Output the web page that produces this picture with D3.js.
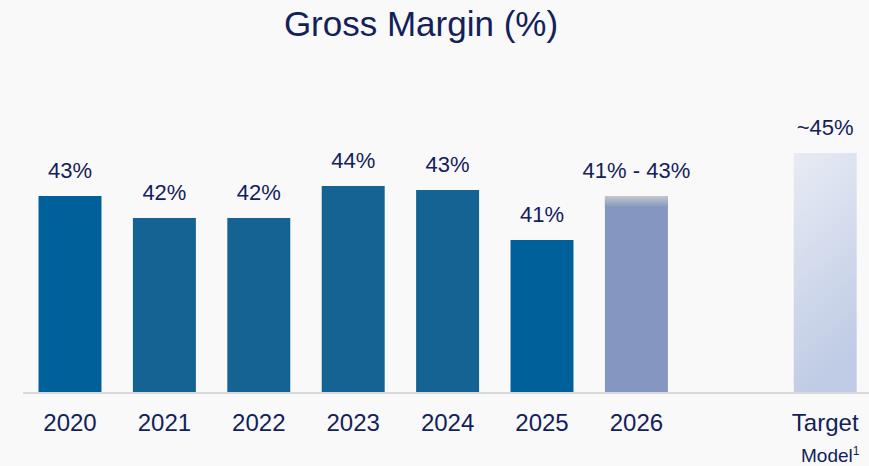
<!DOCTYPE html>
<html>
<head>
<meta charset="utf-8">
<script src="https://cdn.jsdelivr.net/npm/d3@7/dist/d3.min.js"></script>
<style>
  html, body { margin: 0; padding: 0; background: #f9f9f9; }
  svg { display: block; font-family: "Liberation Sans", Arial, sans-serif; }
</style>
</head>
<body>
<svg id="chart" width="869" height="466"></svg>
<script>
// ---- data ----
const categories = ["2020", "2021", "2022", "2023", "2024", "2025", "2026", "", "Target"];
const values     = [43.2, 42.1, 42.1, 43.7, 43.5, 41.0, 43.2, null, 45.35];
const fadeLow2026 = 42.65; // lower edge of the grey fade on the 2026 outlook bar
const valueLabels = ["43%", "42%", "42%", "44%", "43%", "41%", "41% - 43%", "", "~45%"];
const barKinds    = ["a", "b", "b", "b", "b", "a", "outlook", "", "target"];
const tickSub = { "Target": "Model" };

// ---- layout ----
const W = 869, H = 466;
const baseY = 392;
const navy = "#13215a";

const svg = d3.select("#chart");

const defs = svg.append("defs");
const g1 = defs.append("linearGradient").attr("id", "fade26").attr("x1", 0).attr("y1", 0).attr("x2", 0).attr("y2", 1);
g1.append("stop").attr("offset", "0%").attr("stop-color", "#c6c8cd");
g1.append("stop").attr("offset", "100%").attr("stop-color", "#8597c0");
const g2 = defs.append("linearGradient").attr("id", "targetGrad").attr("x1", 0).attr("y1", 0).attr("x2", 0.25).attr("y2", 1);
g2.append("stop").attr("offset", "0%").attr("stop-color", "#e7ebf4");
g2.append("stop").attr("offset", "100%").attr("stop-color", "#c0cce5");

const x = d3.scaleBand()
  .domain(categories)
  .range([22.8, 872.4])
  .paddingInner(0.333)
  .paddingOuter(0.1665);

const y = d3.scaleLinear()
  .domain([33.4, 45.35])
  .range([baseY, 153]);

const colors = { a: "#00609a", b: "#156393", outlook: "#8597c0", target: "url(#targetGrad)" };

const data = categories.map((c, i) => ({ c, v: values[i], label: valueLabels[i], kind: barKinds[i] }))
  .filter(d => d.v !== null);

// title
svg.append("text")
  .attr("x", 421).attr("y", 36)
  .attr("text-anchor", "middle")
  .attr("font-size", 35)
  .attr("fill", navy)
  .text("Gross Margin (%)");

// bars
svg.append("g").selectAll("rect.bar")
  .data(data)
  .join("rect")
  .attr("class", "bar")
  .attr("x", d => x(d.c))
  .attr("width", x.bandwidth())
  .attr("y", d => y(d.v))
  .attr("height", d => baseY - y(d.v))
  .attr("fill", d => colors[d.kind]);

// grey fade on the outlook bar (range top)
const d26 = data.find(d => d.kind === "outlook");
svg.append("rect")
  .attr("x", x(d26.c))
  .attr("width", x.bandwidth())
  .attr("y", y(d26.v))
  .attr("height", y(fadeLow2026) - y(d26.v))
  .attr("fill", "url(#fade26)");

// value labels
svg.append("g").selectAll("text.val")
  .data(data)
  .join("text")
  .attr("class", "val")
  .attr("x", d => x(d.c) + x.bandwidth() / 2)
  .attr("y", d => y(d.v) - 18)
  .attr("text-anchor", "middle")
  .attr("font-size", 22)
  .attr("fill", navy)
  .text(d => d.label);

// baseline
svg.append("line")
  .attr("x1", 23).attr("x2", W)
  .attr("y1", baseY + 1).attr("y2", baseY + 1)
  .attr("stroke", "#d9d9d9")
  .attr("stroke-width", 2);

// x axis
const axis = d3.axisBottom(x).tickSize(0).tickFormat(d => d);
const ax = svg.append("g")
  .attr("transform", `translate(0,${baseY})`)
  .call(axis);
ax.select(".domain").remove();
ax.selectAll(".tick text")
  .attr("y", 39)
  .attr("dy", 0)
  .attr("font-size", 24)
  .attr("font-family", "'Liberation Sans', Arial, sans-serif")
  .attr("fill", navy);

ax.selectAll(".tick")
  .filter(d => tickSub[d])
  .append("text")
  .attr("y", 70)
  .attr("x", 5)
  .attr("text-anchor", "middle")
  .attr("font-size", 19)
  .attr("font-family", "'Liberation Sans', Arial, sans-serif")
  .attr("fill", navy)
  .text(d => tickSub[d])
  .append("tspan")
  .attr("dy", -7)
  .attr("font-size", 12)
  .text("1");
</script>
</body>
</html>
